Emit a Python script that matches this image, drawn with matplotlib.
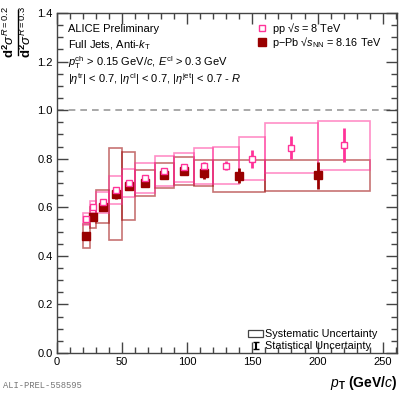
import matplotlib
matplotlib.use('Agg')
import matplotlib.pyplot as plt
import numpy as np
from matplotlib.ticker import MultipleLocator

plt.rcParams['font.family'] = ['Liberation Sans', 'DejaVu Sans']
plt.rcParams['mathtext.fontset'] = 'custom'
plt.rcParams['mathtext.rm'] = 'Liberation Sans'
plt.rcParams['mathtext.it'] = 'Liberation Sans:italic'
plt.rcParams['mathtext.bf'] = 'Liberation Sans:bold'
plt.rcParams['mathtext.fallback'] = 'stixsans'

# ---- data ----
pp_edges = [20, 25, 30, 40, 50, 60, 75, 90, 105, 120, 140, 160, 200, 240]
pp_vals = [0.550, 0.600, 0.620, 0.672, 0.700, 0.722, 0.750, 0.765, 0.770, 0.772, 0.800, 0.846, 0.855]
pp_stat = [0.006, 0.006, 0.008, 0.010, 0.010, 0.010, 0.012, 0.014, 0.018, 0.020, 0.037, 0.048, 0.070]
pp_sys = [0.025, 0.025, 0.045, 0.057, 0.057, 0.062, 0.063, 0.060, 0.074, 0.075, 0.088, 0.103, 0.100]

ppb_edges = [20, 25, 30, 40, 50, 60, 75, 90, 105, 120, 160, 240]
ppb_vals = [0.483, 0.559, 0.603, 0.655, 0.687, 0.700, 0.731, 0.748, 0.741, 0.730, 0.732]
ppb_stat = [0.012, 0.014, 0.016, 0.020, 0.016, 0.012, 0.014, 0.016, 0.026, 0.030, 0.056]
ppb_sys = [0.049, 0.044, 0.069, 0.188, 0.140, 0.053, 0.052, 0.058, 0.053, 0.065, 0.063]

pp_color = '#ff3399'
ppb_color = '#990000'

fig = plt.figure(figsize=(4.07, 3.95), dpi=100)
ax = fig.add_axes([57/407, 1-353/395, 340/407, 340/395])

def draw(edges, vals, stat, sys, color, filled, ms):
    edges = np.asarray(edges, float)
    vals = np.asarray(vals)
    sys = np.asarray(sys)
    centers = 0.5 * (edges[:-1] + edges[1:])
    widths = np.diff(edges)
    ax.bar(edges[:-1], 2 * sys, bottom=vals - sys, width=widths, align='edge',
           fill=False, edgecolor=color, alpha=0.55, linewidth=1.2, zorder=2)
    ax.errorbar(centers, vals, yerr=stat, fmt='none', ecolor=color,
                elinewidth=2.0, capsize=0, zorder=3)
    ax.plot(centers, vals, 's', ms=ms, mfc=(color if filled else 'white'),
            mec=color, mew=1.0, zorder=4, linestyle='none')

draw(ppb_edges, ppb_vals, ppb_stat, ppb_sys, ppb_color, True, 5.5)
draw(pp_edges, pp_vals, pp_stat, pp_sys, pp_color, False, 5.0)

ax.axhline(1.0, color='#999999', linestyle=(0, (4, 3)), linewidth=1.2, zorder=1)

ax.set_xlim(0, 261)
ax.set_ylim(0, 1.4)
ax.xaxis.set_major_locator(MultipleLocator(50))
ax.xaxis.set_minor_locator(MultipleLocator(10))
ax.yaxis.set_major_locator(MultipleLocator(0.2))
ax.yaxis.set_minor_locator(MultipleLocator(0.05))
ax.yaxis.set_major_formatter(matplotlib.ticker.FormatStrFormatter('%.1f'))
ax.tick_params(which='both', direction='in', top=True, right=True,
               labelsize=8, color='#444444', pad=3)
ax.tick_params(which='major', length=8, width=1)
ax.tick_params(which='minor', length=4, width=1)
for s in ax.spines.values():
    s.set_color('#444444')
    s.set_linewidth(1.0)

fs = 8.0
ax.text(0.033, 0.953, 'ALICE Preliminary', transform=ax.transAxes, fontsize=fs, va='center')
ax.text(0.033, 0.905, r'Full Jets, Anti-$k_{\mathrm{T}}$', transform=ax.transAxes, fontsize=fs, va='center')
ax.text(0.033, 0.853, r'$p_{\mathrm{T}}^{\mathrm{ch}}$ > 0.15 GeV/$c$, $E^{\mathrm{cl}}$ > 0.3 GeV',
        transform=ax.transAxes, fontsize=fs, va='center')
ax.text(0.033, 0.807, r'|$\eta^{\mathrm{tr}}$| < 0.7, |$\eta^{\mathrm{cl}}$| < 0.7, |$\eta^{\mathrm{jet}}$| < 0.7 - $R$',
        transform=ax.transAxes, fontsize=fs, va='center')

# legend (top right)
ax.plot([0.602], [0.955], 's', transform=ax.transAxes, ms=5, mfc='white', mec=pp_color, mew=1.0)
ax.text(0.633, 0.955, r'pp √$s$ = 8 TeV', transform=ax.transAxes, fontsize=7.8, va='center')
ax.plot([0.602], [0.914], 's', transform=ax.transAxes, ms=5.5, mfc=ppb_color, mec=ppb_color)
ax.text(0.633, 0.914, r'p$-$Pb √$s_{\mathrm{NN}}$ = 8.16 TeV', transform=ax.transAxes, fontsize=7.8, va='center')

# legend (bottom right)
ax.add_patch(plt.Rectangle((0.562, 0.046), 0.045, 0.022, transform=ax.transAxes,
                           fill=False, edgecolor='#444444', linewidth=0.9))
ax.text(0.613, 0.057, 'Systematic Uncertainty', transform=ax.transAxes, fontsize=7.8, va='center')
ax.errorbar([0.584], [0.022], yerr=[0.011], transform=ax.transAxes, fmt='none',
            ecolor='black', elinewidth=1.5, capsize=2, capthick=1.0)
ax.text(0.613, 0.022, 'Statistical Uncertainty', transform=ax.transAxes, fontsize=7.8, va='center')

# axis labels
fig.text(397/407, 1-383/395, r'$\mathbf{\mathit{p}_{T}}$ $\mathbf{(GeV/\mathit{c})}$', ha='right', va='center',
         fontsize=10, fontweight='bold')
# y label drawn as a rotated fraction: numerator, bar, denominator
fig.text(9/407, 1-32/395, r'$\mathbf{d^{2}}\sigma^{R=0.2}$', rotation=90,
         ha='center', va='center', fontsize=9.5)
fig.text(26/407, 1-32/395, r'$\mathbf{d^{2}}\sigma^{R=0.3}$', rotation=90,
         ha='center', va='center', fontsize=9.5)
fig.add_artist(plt.Line2D([17.5/407, 17.5/407], [1-10/395, 1-55/395],
                          transform=fig.transFigure, color='black', linewidth=1.0))

fig.text(3/407, 1-385/395, 'ALI-PREL-558595', fontsize=6.3, color='#777777',
         family='Liberation Mono', va='center')

fig.savefig('out.png', dpi=100)
